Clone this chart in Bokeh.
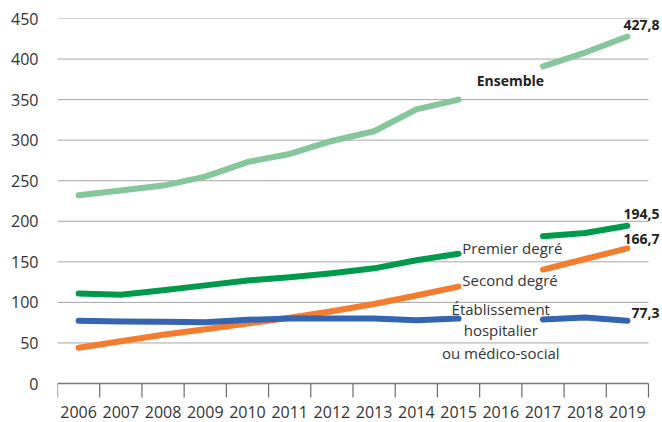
from bokeh.plotting import figure
from bokeh.models import Range1d, FixedTicker, Label, LabelSet, ColumnDataSource
from bokeh.core.properties import value
from bokeh.embed import file_html
from bokeh.resources import INLINE

years = ["2006", "2007", "2008", "2009", "2010", "2011", "2012",
         "2013", "2014", "2015", "2016", "2017", "2018", "2019"]
nan = float("nan")
ensemble = [232, 238, 244, 255, 273, 283, 299, 311, 338, 350, nan, 391, 408, 427.8]
premier = [111, 109.5, 115, 121, 127, 131, 136, 142, 152, 160, nan, 181.5, 185.5, 194.5]
second = [44, 52, 60, 67, 74, 81, 89, 98, 108.5, 119.5, nan, 140.5, 153.5, 166.7]
etab = [77.5, 76.5, 76, 75.5, 78.5, 80, 80, 80, 78, 80, nan, 79, 81.5, 77.3]
y_ticks = [0, 50, 100, 150, 200, 250, 300, 350, 400, 450]

FONT = "Open Sans"
n = len(years)
xs = [i + 0.5 for i in range(n)]

# layout constants (pixels)
W, H = 662, 422
LEFT, TOP = 57, 18
CAT_W = 591.0           # pixel width occupied by the 14 categories
ZERO_PX = 383           # pixel row of y = 0 inside the figure
px_per_unit = (ZERO_PX - TOP) / 450.0
y_start = -(H - ZERO_PX) / px_per_unit
x_end = n * (W - LEFT) / CAT_W

p = figure(width=W, height=H, output_backend="svg", toolbar_location=None,
           x_range=Range1d(0, x_end), y_range=Range1d(y_start, 450),
           min_border_left=LEFT, min_border_right=0, min_border_top=TOP,
           min_border_bottom=0)
p.outline_line_color = None
p.background_fill_color = "white"
p.border_fill_color = "white"
p.xaxis.visible = False

# y axis
ya = p.yaxis[0]
ya.ticker = FixedTicker(ticks=y_ticks)
ya.axis_line_color = None
ya.major_tick_line_color = None
ya.minor_tick_line_color = None
ya.major_tick_out = 0
ya.major_tick_in = 0
ya.major_label_standoff = 19
ya.major_label_text_font = FONT
ya.major_label_text_font_size = "16px"
ya.major_label_text_color = "#333333"

p.xgrid.grid_line_color = None
p.ygrid.grid_line_color = None

# horizontal grid lines limited to the category span
grid_y = y_ticks[1:]
p.segment(x0=[0] * len(grid_y), x1=[n] * len(grid_y), y0=grid_y, y1=grid_y,
          line_color="#a6a6a6", line_width=1)
# category axis: baseline, boundary ticks and year labels
tick_len = 14 / px_per_unit
bounds = list(range(n + 1))
p.segment(x0=bounds, x1=bounds, y0=[0] * len(bounds), y1=[-tick_len] * len(bounds),
          line_color="#6b6b6b", line_width=1.2)
p.segment(x0=[0], x1=[n], y0=[0], y1=[0], line_color="#7a7a7a", line_width=1.6)
year_src = ColumnDataSource(dict(x=xs, y=[-28 / px_per_unit] * n, text=years))
p.add_layout(LabelSet(x="x", y="y", text="text", source=year_src,
                      text_font=value(FONT), text_font_size=value("16px"),
                      text_color="#333333", text_align="center",
                      text_baseline="middle"))

src = ColumnDataSource(dict(x=xs, ensemble=ensemble, premier=premier,
                            second=second, etab=etab))
LW = 6
kw = dict(source=src, line_width=LW, line_cap="round", line_join="round")
p.line("x", "ensemble", line_color="#86c69b", **kw)
p.line("x", "second", line_color="#f47c2f", **kw)
p.line("x", "etab", line_color="#3565b0", **kw)
p.line("x", "premier", line_color="#009a4d", **kw)

def lab(x, y, text, bold=False, align="left", size="15px", color="#333333"):
    p.add_layout(Label(x=x, y=y, text=text, text_font=FONT, text_font_size=size,
                       text_font_style="bold" if bold else "normal",
                       text_align=align, text_baseline="middle", text_color=color))

def ry(sy):
    # convert a reference pixel row to a data value
    return (ZERO_PX - sy) / px_per_unit

xr = (659 - LEFT) / (CAT_W / n)
lab(xr, ry(24), "427,8", bold=True, align="right", size="14px", color="#222222")
lab(xr, ry(213), "194,5", bold=True, align="right", size="14px", color="#222222")
lab(xr, ry(238), "166,7", bold=True, align="right", size="14px", color="#222222")
lab(xr, ry(312), "77,3", bold=True, align="right", size="14px", color="#222222")

lab(9.93, ry(80), "Ensemble", bold=True, size="14px", color="#222222")
lab(9.59, ry(247), "Premier degré")
lab(9.59, ry(279), "Second degré")
lab(10.5, ry(308), "Établissement", align="center")
lab(10.5, ry(329), "hospitalier", align="center")
lab(10.5, ry(352), "ou médico-social", align="center")

open("out.html", "w").write(file_html(p, INLINE))
